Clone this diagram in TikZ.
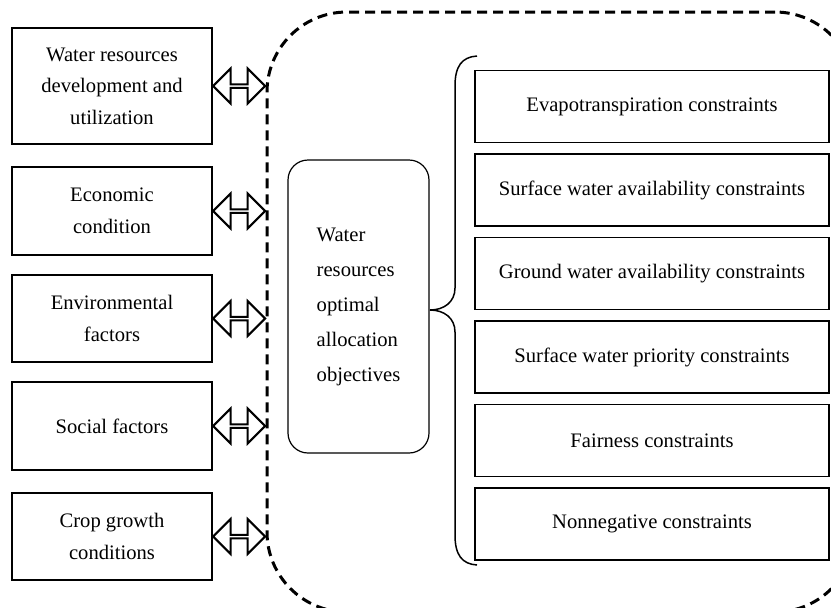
\documentclass[tikz,border=0pt]{standalone}
\usepackage{fontspec}
\setmainfont{Liberation Serif}
\usetikzlibrary{shapes.arrows,positioning,calc}

\begin{document}
\begin{tikzpicture}[x=0.5pt,y=-0.5pt,node distance=5pt,
    factor/.style={rectangle,draw,line width=0.75pt,minimum width=100pt,inner sep=0pt,
        align=center,font=\fontsize{10.3}{15.8}\selectfont},
    limit/.style={rectangle,draw,line width=0.75pt,minimum width=177pt,minimum height=36pt,
        font=\fontsize{10.3}{12}\selectfont},
    goal/.style={rectangle,draw,rounded corners=10pt,line width=0.6pt,minimum width=70.5pt,
        minimum height=146.5pt,align=left,font=\fontsize{10.3}{17.5}\selectfont},
    frame/.style={rectangle,draw,rounded corners=40pt,line width=1.5pt,
        dash pattern=on 5pt off 3pt,minimum width=294pt,minimum height=300pt},
    link/.style={double arrow,draw,line width=1pt,inner sep=0pt,minimum height=26pt,
        minimum width=17.5pt,double arrow head extend=4.5pt,double arrow tip angle=90}]
    \useasboundingbox (0,0) rectangle (831,607);
    \clip (0,0) rectangle (831,607);

    % Frame
      \node[frame] (box) at (561,312) {};

    % Factors
      \node[factor,minimum height=58pt]   (water)  at (112,86)    {Water resources\\development and\\utilization};
      \node[factor,minimum height=44pt]   (econ)   at (112,211)   {Economic\\condition};
      \node[factor,minimum height=43.5pt] (env)    at (112,318.5) {Environmental\\factors};
      \node[factor,minimum height=44pt]   (social) at (112,426)   {Social factors};
      \node[factor,minimum height=43.5pt] (crop)   at (112,536.5) {Crop growth\\conditions};

    % Links
      \foreach \f in {water,econ,env,social,crop}
        \node[link] (l-\f) at ($(\f.east)!0.5!(\f.east -| box.west)$) {};

    % Objectives
      \node[goal] (obj) at (358.5,306.5) {Water\\resources\\optimal\\allocation\\objectives};

    % Constraints
      \node[limit] (c1) at (652,106.5) {Evapotranspiration constraints};
      \node[limit] (c2) [below=of c1] {Surface water availability constraints};
      \node[limit] (c3) [below=of c2] {Ground water availability constraints};
      \node[limit] (c4) [below=of c3] {Surface water priority constraints};
      \node[limit] (c5) [below=of c4] {Fairness constraints};
      \node[limit] (c6) [below=of c5] {Nonnegative constraints};

    % Brace
      \draw[line width=0.75pt] (477,56) .. controls (462,57) and (455,66) .. (455,86)
        -- (455,288) .. controls (455,302) and (444,310) .. (430,310)
        .. controls (444,310) and (455,318) .. (455,332)
        -- (455,535) .. controls (455,555) and (462,564) .. (477,565);
\end{tikzpicture}
\end{document}
